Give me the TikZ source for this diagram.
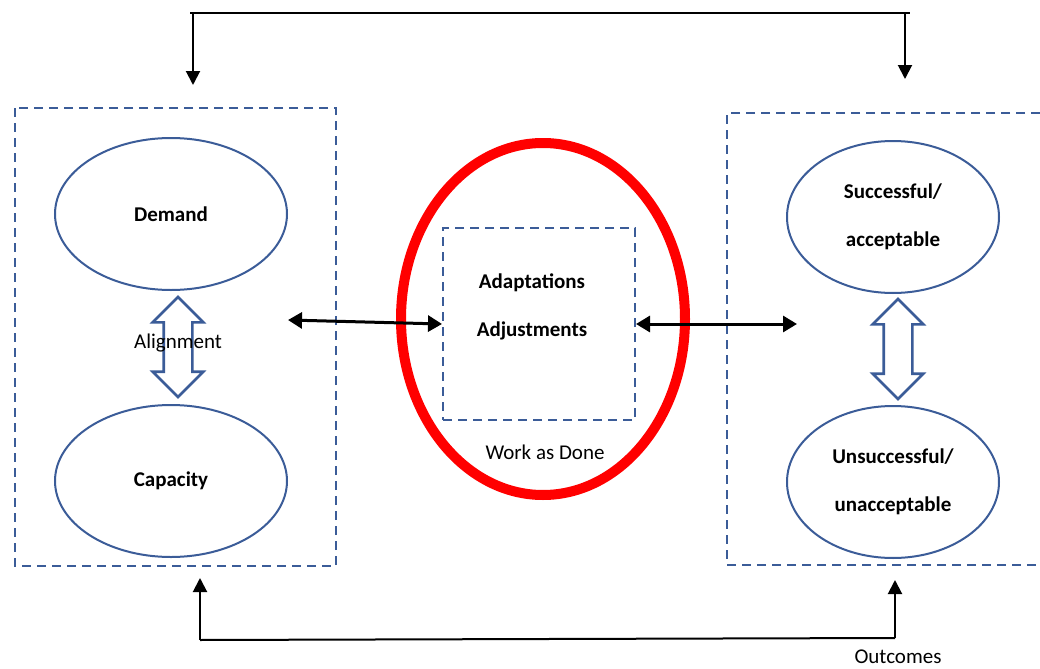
\documentclass[tikz,border=0pt]{standalone}
\usepackage{fontspec}
\setmainfont{Carlito}
\usepackage{tikz}
\usetikzlibrary{shapes.geometric,shapes.arrows,arrows.meta}
\definecolor{frameBlue}{HTML}{3B5C98}
\definecolor{workRed}{HTML}{FF0000}

\begin{document}
\begin{tikzpicture}[
    x=0.5pt, y=-0.5pt,
    oval/.style={ellipse, draw=frameBlue, line width=1pt, minimum width=116pt, minimum height=76pt, font=\bfseries\fontsize{10.5}{13}\selectfont, align=center},
    group/.style={draw=frameBlue, line width=1pt, dash pattern=on 4.5pt off 3pt},
    swap/.style={double arrow, draw=frameBlue, line width=1.3pt, fill=white, rotate=90, minimum height=50pt, inner xsep=0pt, inner ysep=6.5pt, double arrow head extend=5.5pt},
    link/.style={{Triangle[length=7pt,width=8pt]}-{Triangle[length=7pt,width=8pt]}, line width=1.5pt},
    feed/.style={-{Triangle[length=7pt,width=7pt]}, line width=1pt},
    label/.style={font=\fontsize{10.5}{13}\selectfont}
]
\useasboundingbox (0,0) rectangle (1040,669);

% left group
\draw[group] (15,108) rectangle (336,566);
\node[oval] (demand) at (171,214) {Demand};
\node[oval] (capacity) at (171,481) {Capacity};
\node[swap] (align) at (178,347) {};
\node[label] (alignment) at (178,343) {Alignment};

% centre
\node[ellipse, draw=workRed, line width=5pt, minimum width=142pt, minimum height=176pt] (work) at (543,319) {};
\node[rectangle, group, minimum width=96pt, minimum height=96pt] (wad) at (539,324) {};
\node[font=\bfseries\fontsize{10.5}{13}\selectfont, align=center] (adapt) at (532,307) {Adaptations\\[11pt]Adjustments};
\node[label] (done) at (545,452) {Work as Done};

% right group
\draw[group] (1040,113) -- (727,113) -- (727,565) -- (1040,565);
\node[oval, minimum width=106pt] (success) at (893,217) {Successful/\\[11pt]acceptable};
\node[oval, minimum width=106pt] (fail) at (893,482) {Unsuccessful/\\[11pt]unacceptable};
\node[swap] (range) at (898,349) {};
\node[label] (outcomes) at (898,657) {Outcomes};

% connectors
\coordinate (inL) at (288,320);
\coordinate (outR) at (797,324);
\draw[link] (inL) -- (wad.west);
\draw[link] (wad.east) -- (outR);

\coordinate (topL) at (193,13);
\coordinate (topR) at (905,13);
\draw[line width=1pt] (190,13) -- (910,13);
\draw[feed] (topL) -- (193,85);
\draw[feed] (topR) -- (905,79);

\coordinate (botL) at (200,640);
\coordinate (botR) at (895,638);
\draw[line width=1pt] (botL) -- (botR);
\draw[feed] (botL) -- (200,578);
\draw[feed] (botR) -- (895,580);

\end{tikzpicture}
\end{document}
